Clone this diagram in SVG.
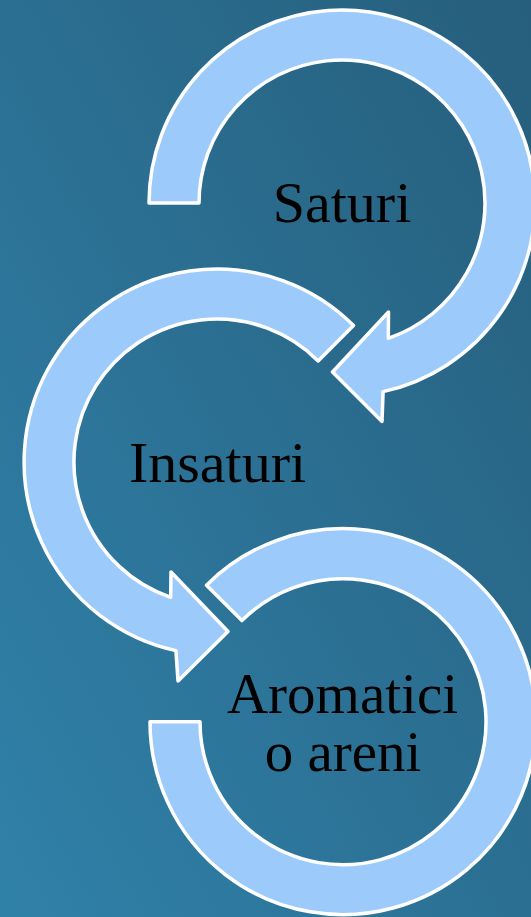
<svg xmlns="http://www.w3.org/2000/svg" width="531" height="917" viewBox="0 0 531 917">
  <defs>
    <linearGradient id="bg" x1="0" y1="1" x2="1" y2="0">
      <stop offset="0" stop-color="#3081a9"/>
      <stop offset="1" stop-color="#265e7c"/>
    </linearGradient>
  </defs>
  <style>
    .arrow { fill: #9ccbfb; stroke: #ffffff; stroke-width: 3.5; stroke-linejoin: round; }
    .label { font-family: "Liberation Serif", "Times New Roman", serif; font-size: 58px; fill: #000000; text-anchor: middle; }
  </style>
  <rect x="0" y="0" width="531" height="917" fill="url(#bg)"/>
  <g id="node-saturi">
    <path class="arrow" d="M 149,203 A 193 193 0 1 1 383.1,391.6 L 382,421.5 L 332.5,372 L 388.5,312 L 388.3,338.3 A 143 143 0 1 0 199,203 Z"/>
    <text class="label" x="342" y="222">Saturi</text>
  </g>
  <g id="node-insaturi">
    <path class="arrow" d="M 353.5,325.5 A 193 193 0 1 0 175.9,650.6 L 178,681 L 228,631.5 L 171,572 L 170.7,597.3 A 143 143 0 1 1 318.1,360.9 Z"/>
    <text class="label" x="217.5" y="482">Insaturi</text>
  </g>
  <g id="node-aromatici">
    <path class="arrow" d="M 206.5,585.2 A 193 193 0 1 1 150,721.7 L 200,721.7 A 143 143 0 1 0 241.9,620.6 Z"/>
    <text class="label" style="font-size:57px"><tspan x="342.5" y="713">Aromatici</tspan><tspan x="343" y="771">o areni</tspan></text>
  </g>
  <g id="connectors"/>
</svg>
